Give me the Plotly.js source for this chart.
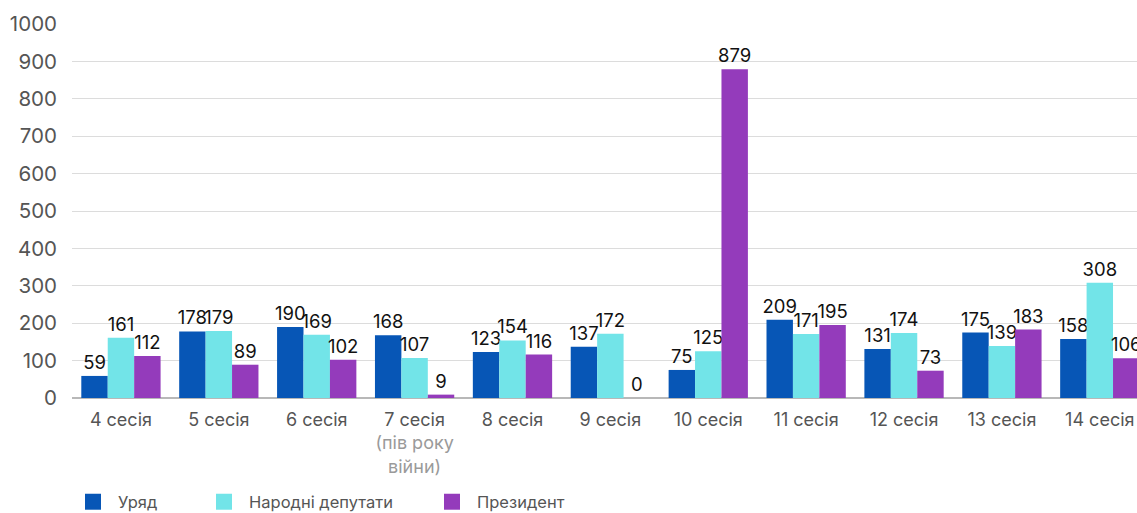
<!DOCTYPE html>
<html>
<head>
<meta charset="utf-8">
<script src="https://cdn.plot.ly/plotly-3.0.1.min.js"></script>
<style>html,body{margin:0;padding:0;background:#fff;}#chart{width:1137px;height:513px;}</style>
</head>
<body>
<div id="chart"></div>
<script>
const categories = ["4 сесія","5 сесія","6 сесія","7 сесія","8 сесія","9 сесія","10 сесія","11 сесія","12 сесія","13 сесія","14 сесія"];
const tickLabels = ["4 сесія","5 сесія","6 сесія","7 сесія<br><span style=\"color:#9a9a9a\">(пів року</span><br><span style=\"color:#9a9a9a\">війни)</span>","8 сесія","9 сесія","10 сесія","11 сесія","12 сесія","13 сесія","14 сесія"];
const seriesNames = ["Уряд","Народні депутати","Президент"];
const uryad = [59,178,190,168,123,137,75,209,131,175,158];
const deputaty = [161,179,169,107,154,172,125,171,174,139,308];
const prezydent = [112,89,102,9,116,0,879,195,73,183,106];
const colors = ["#0756b6","#72e4e8","#943bbb"];

const series = [uryad, deputaty, prezydent];
const traces = series.map((vals, i) => ({
  type: "bar",
  name: seriesNames[i],
  x: categories,
  y: vals,
  marker: {color: colors[i]},
  text: vals.map(String),
  textposition: "outside",
  constraintext: "none",
  cliponaxis: false,
  textfont: {family: "Inter, sans-serif", size: 18.5, color: "#111"},
  showlegend: false,
  hoverinfo: "x+y+name"
}));
const legendIds = ["legend","legend2","legend3"];
seriesNames.forEach((n, i) => {
  traces.push({
    type: "scatter", mode: "markers", name: n,
    x: [null], y: [null],
    marker: {symbol: "square", size: 16, color: colors[i]},
    showlegend: true,
    legend: legendIds[i]
  });
});

function legendAt(px) {
  return {
    orientation: "h",
    xref: "container", yref: "container",
    x: px / 1137, y: 11 / 513, xanchor: "left", yanchor: "middle",
    font: {size: 16.5, color: "#555"},
    itemwidth: 40,
    bgcolor: "rgba(0,0,0,0)"
  };
}

const layout = {
  width: 1137, height: 513,
  margin: {l: 72, r: 0, t: 24, b: 115, autoexpand: false},
  paper_bgcolor: "#fff", plot_bgcolor: "#fff",
  font: {family: "Inter, sans-serif", color: "#555"},
  barmode: "group",
  bargap: 0.19,
  bargroupgap: 0,
  xaxis: {
    type: "category",
    range: [-0.5, 10.38],
    tickvals: categories,
    ticktext: tickLabels,
    tickfont: {size: 18, color: "#555"},
    tickangle: 0,
    automargin: false,
    ticklabelstandoff: 9,
    showgrid: false,
    showline: false,
    ticks: "",
    fixedrange: true
  },
  yaxis: {
    range: [0, 1000],
    dtick: 100,
    tickfont: {size: 20.5, color: "#555"},
    gridcolor: "#dcdcdc",
    gridwidth: 1,
    zeroline: true,
    zerolinecolor: "#b8b8b8",
    zerolinewidth: 2,
    ticklabelstandoff: 14,
    automargin: false,
    showline: false,
    fixedrange: true
  },
  legend: legendAt(68),
  legend2: legendAt(199),
  legend3: legendAt(427),
  showlegend: true
};
Plotly.newPlot("chart", traces, layout, {displayModeBar: false, staticPlot: true});
</script>
</body>
</html>
